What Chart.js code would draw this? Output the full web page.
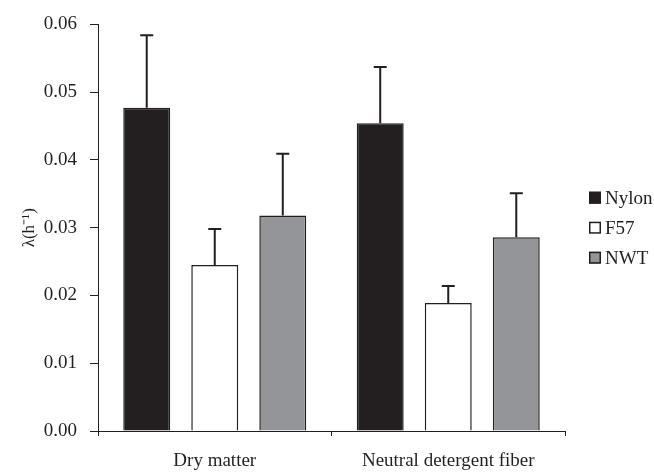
<!DOCTYPE html>
<html>
<head>
<meta charset="utf-8">
<script src="https://cdn.jsdelivr.net/npm/chart.js@4.4.1/dist/chart.umd.min.js"></script>
<style>
  html, body { margin: 0; padding: 0; background: #fff; }
  #wrap { width: 654px; height: 472px; }
</style>
</head>
<body>
<div id="wrap"><canvas id="myChart" width="654" height="472"></canvas></div>
<script>
const categories = ['Dry matter', 'Neutral detergent fiber'];
const seriesNames = ['Nylon', 'F57', 'NWT'];

const nylon = [0.0477, 0.0454];
const f57 = [0.0245, 0.0189];
const nwt = [0.0318, 0.0286];

// upper error (sd) for each bar
const nylonErr = [0.0107, 0.0083];
const f57Err = [0.0053, 0.0025];
const nwtErr = [0.0091, 0.0065];

const yTicks = [0, 0.01, 0.02, 0.03, 0.04, 0.05, 0.06];

const ink = '#231f20';
const serif = "'Liberation Serif', 'Times New Roman', serif";

Chart.defaults.font.family = serif;
Chart.defaults.color = ink;

const data = {
  labels: categories,
  datasets: [
    { label: seriesNames[0], data: nylon, errors: nylonErr, backgroundColor: ink },
    { label: seriesNames[1], data: f57, errors: f57Err, backgroundColor: '#ffffff' },
    { label: seriesNames[2], data: nwt, errors: nwtErr, backgroundColor: '#939598' }
  ].map(d => Object.assign(d, {
    borderColor: ink,
    borderWidth: 1.5,
    categoryPercentage: 0.874,
    barPercentage: 0.69
  }))
};

// error bars, up only
const errorBars = {
  id: 'errorBars',
  afterDatasetsDraw(chart) {
    const ctx = chart.ctx;
    const y = chart.scales.y;
    ctx.save();
    ctx.strokeStyle = ink;
    ctx.lineWidth = 2;
    chart.data.datasets.forEach((ds, i) => {
      chart.getDatasetMeta(i).data.forEach((bar, j) => {
        const top = y.getPixelForValue(ds.data[j] + ds.errors[j]);
        ctx.beginPath();
        ctx.moveTo(bar.x, bar.y);
        ctx.lineTo(bar.x, top);
        ctx.moveTo(bar.x - 6.5, top);
        ctx.lineTo(bar.x + 6.5, top);
        ctx.stroke();
      });
    });
    ctx.restore();
  }
};

// legend to the right of the plot
const sideLegend = {
  id: 'sideLegend',
  afterDraw(chart) {
    const ctx = chart.ctx;
    const area = chart.chartArea;
    const x = area.right + 24;
    const midY = (area.top + area.bottom) / 2;
    ctx.save();
    ctx.font = '19px ' + serif;
    ctx.textBaseline = 'middle';
    chart.data.datasets.forEach((ds, i) => {
      const cy = midY + (i - 1) * 30;
      ctx.fillStyle = ds.backgroundColor;
      ctx.fillRect(x, cy - 6, 12, 12);
      ctx.strokeStyle = ink;
      ctx.lineWidth = 1.5;
      ctx.strokeRect(x + 0.75, cy - 5.25, 10.5, 10.5);
      ctx.fillStyle = ink;
      ctx.fillText(ds.label, x + 16, cy + 1);
    });
    ctx.restore();
  }
};

const config = {
  type: 'bar',
  data,
  options: {
    responsive: false,
    animation: false,
    layout: { padding: { top: 21, right: 89, bottom: 0, left: 0 } },
    plugins: {
      legend: { display: false },
      tooltip: { enabled: false }
    },
    scales: {
      x: {
        grid: { drawOnChartArea: false, offset: true, tickLength: 5, color: ink },
        border: { color: ink, width: 1 },
        ticks: { font: { size: 19 }, color: ink, padding: 14, maxRotation: 0 },
        afterFit(s) { s.height = 41; }
      },
      y: {
        min: 0,
        max: 0.06,
        afterBuildTicks(s) { s.ticks = yTicks.map(v => ({ value: v })); },
        grid: { drawOnChartArea: false, tickLength: 8, color: ink },
        border: { color: ink, width: 1 },
        ticks: {
          font: { size: 19 },
          color: ink,
          padding: 13,
          callback: v => v.toFixed(2)
        },
        title: {
          display: true,
          text: 'λ(h⁻¹)',
          font: { size: 17 },
          color: ink,
          padding: { top: 19, bottom: 0 }
        },
        afterFit(s) { s.width = 98; }
      }
    }
  },
  plugins: [errorBars, sideLegend]
};

const myChart = new Chart(document.getElementById('myChart'), config);
</script>
</body>
</html>
